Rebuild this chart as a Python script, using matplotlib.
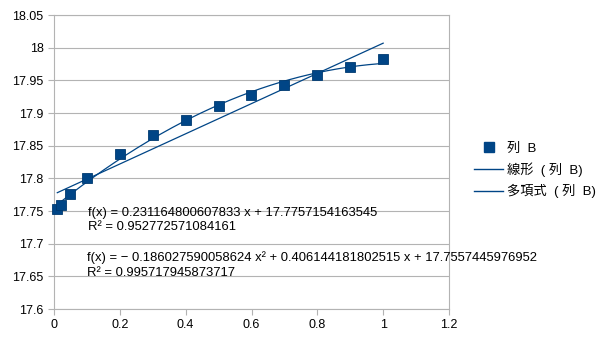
import numpy as np
import matplotlib.pyplot as plt
from matplotlib.lines import Line2D

plt.rcParams['font.family'] = ['Liberation Sans', 'Noto Sans CJK JP', 'DejaVu Sans']

x = [0.01, 0.02, 0.05, 0.1, 0.2, 0.3, 0.4, 0.5, 0.6, 0.7, 0.8, 0.9, 1.0]
y = [17.7525, 17.759, 17.776, 17.800, 17.838, 17.866, 17.890, 17.910,
     17.928, 17.943, 17.958, 17.970, 17.982]

# trendline coefficients shown on the chart
lin_coef = [0.231164800607833, 17.7757154163545]
lin_r2 = 0.952772571084161
poly_coef = [-0.186027590058624, 0.406144181802515, 17.7557445976952]
poly_r2 = 0.995717945873717

col = '#004586'
grid = '#b3b3b3'

fig = plt.figure(figsize=(6.05, 3.4), dpi=100)
ax = fig.add_axes([54 / 605, 1 - 309 / 340, 395 / 605, 294 / 340])

xs = np.linspace(min(x), max(x), 200)
ax.plot(xs, np.polyval(lin_coef, xs), color=col, lw=0.9, zorder=2)
ax.plot(xs, np.polyval(poly_coef, xs), color=col, lw=0.9, zorder=2)
ax.plot(x, y, 's', color=col, markersize=7.5, markeredgecolor='#003a70',
        markeredgewidth=0.6, zorder=3, clip_on=False)

ax.set_xlim(0, 1.2)
ax.set_ylim(17.6, 18.05)
ax.set_xticks(np.arange(0, 1.21, 0.2))
ax.set_xticklabels(['0', '0.2', '0.4', '0.6', '0.8', '1', '1.2'])
ax.set_yticks(np.arange(17.6, 18.051, 0.05))
ax.set_yticklabels(['17.6', '17.65', '17.7', '17.75', '17.8', '17.85', '17.9',
                    '17.95', '18', '18.05'])
ax.yaxis.grid(True, color=grid, lw=0.8)
ax.set_axisbelow(True)
for s in ax.spines.values():
    s.set_color(grid)
    s.set_linewidth(0.8)
ax.tick_params(colors=grid, labelcolor='black', labelsize=9, length=4, width=0.8)

ax.text(0.103, 17.736,
        f'f(x) = {lin_coef[0]:.15f} x + {lin_coef[1]:.13f}\nR² = {lin_r2:.15f}',
        fontsize=9.4, va='center', ha='left', linespacing=1.28, zorder=4)
ax.text(0.100, 17.667,
        f'f(x) = − {-poly_coef[0]:.15f} x² + {poly_coef[1]:.15f} x + {poly_coef[2]:.13f}\n'
        f'R² = {poly_r2:.15f}',
        fontsize=9.4, va='center', ha='left', linespacing=1.28, zorder=4)

handles = [
    Line2D([], [], marker='s', ls='none', color=col, markersize=7.5),
    Line2D([], [], color=col, lw=1),
    Line2D([], [], color=col, lw=1),
]
labels = ['列  B', '線形  ( 列  B)', '多項式  ( 列  B)']
fig.legend(handles, labels, loc='center left', bbox_to_anchor=(469 / 605, 1 - 170.5 / 340),
           frameon=False, fontsize=9.5, handlelength=2.2, handletextpad=0.25,
           labelspacing=0.55, borderaxespad=0)

plt.savefig('out.png', dpi=100)
